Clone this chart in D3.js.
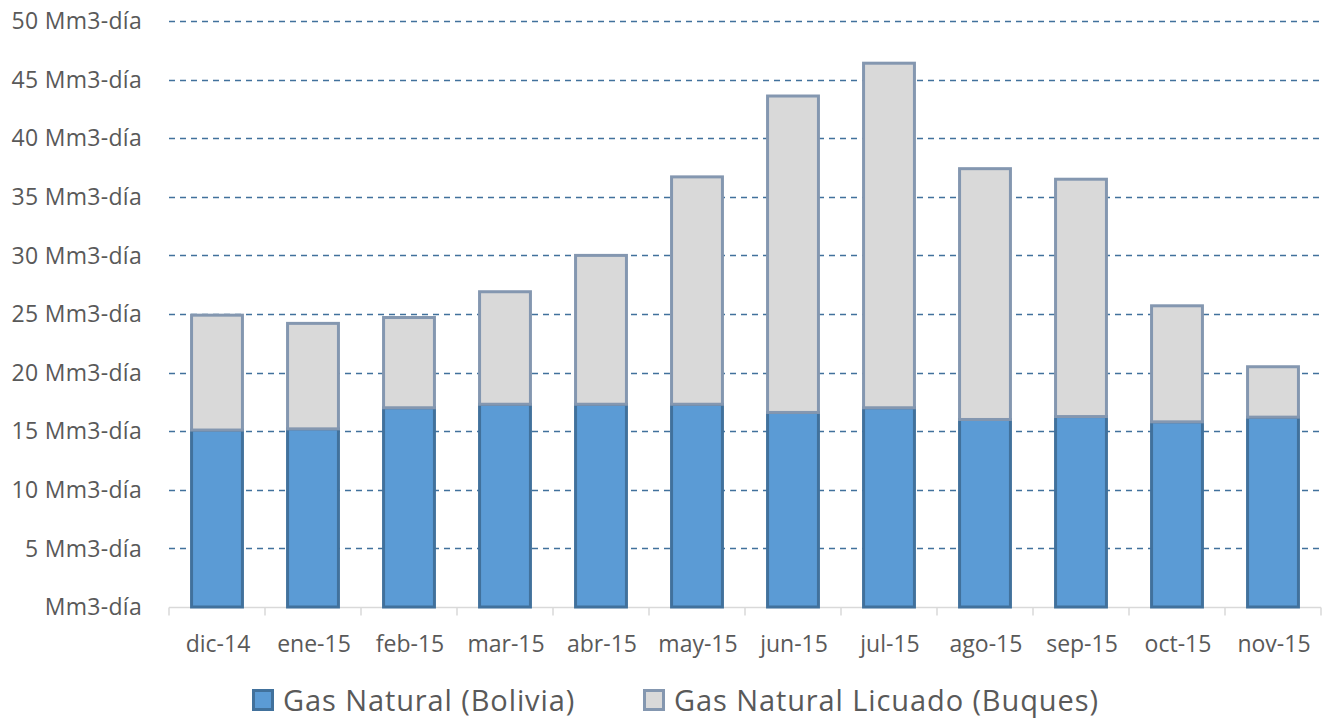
<!DOCTYPE html>
<html>
<head>
<meta charset="utf-8">
<script src="https://cdn.jsdelivr.net/npm/d3@7"></script>
<style>
  body { margin: 0; background: #fff; }
  svg { display: block; }
  text { font-family: "Open Sans", "Noto Sans", sans-serif; fill: #595959; }
</style>
</head>
<body>
<svg id="chart" width="1332" height="719"></svg>
<script>
// months on the x axis
const months = ["dic-14", "ene-15", "feb-15", "mar-15", "abr-15", "may-15",
                "jun-15", "jul-15", "ago-15", "sep-15", "oct-15", "nov-15"];
// Mm3 per day
const bolivia = [15.1, 15.2, 17.0, 17.3, 17.3, 17.3, 16.6, 17.0, 16.0, 16.25, 15.8, 16.2];
const gnl     = [9.8, 9.0, 7.7, 9.6, 12.7, 19.4, 27.0, 29.4, 21.4, 20.25, 9.9, 4.3];
const yTicks = [0, 5, 10, 15, 20, 25, 30, 35, 40, 45, 50];
const seriesNames = ["Gas Natural (Bolivia)", "Gas Natural Licuado (Buques)"];

const rows = months.map((m, i) => ({month: m, bolivia: bolivia[i], gnl: gnl[i]}));
const stacked = d3.stack().keys(["bolivia", "gnl"])(rows);

const fills = ["#5B9BD5", "#D9D9D9"];
const strokes = ["#41719C", "#8497B0"];

const svg = d3.select("#chart");
const margin = {left: 169, right: 11, top: 21, bottom: 112};
const W = 1332, H = 719;

const x = d3.scaleBand()
  .domain(months)
  .range([margin.left, W - margin.right])
  .paddingInner(0.47)
  .paddingOuter(0.235);

const y = d3.scaleLinear()
  .domain([0, 50])
  .range([H - margin.bottom, margin.top]);

// gridlines
svg.append("g")
  .selectAll("line")
  .data(yTicks.filter(d => d > 0))
  .join("line")
    .attr("x1", margin.left)
    .attr("x2", W - margin.right)
    .attr("y1", d => Math.round(y(d)) + 0.5)
    .attr("y2", d => Math.round(y(d)) + 0.5)
    .attr("stroke", "#41719C")
    .attr("stroke-width", 1.3)
    .attr("stroke-dasharray", "6,5");

// y labels
svg.append("g")
  .selectAll("text")
  .data(yTicks)
  .join("text")
    .attr("x", 142)
    .attr("y", d => y(d))
    .attr("dy", "0.36em")
    .attr("text-anchor", "end")
    .style("font-size", "23px")
    .style("letter-spacing", "0.3px")
    .text(d => d === 0 ? "Mm3-día" : d + " Mm3-día");

// baseline and category ticks
const base = Math.round(y(0)) + 0.5;
svg.append("line")
  .attr("x1", margin.left).attr("x2", W - margin.right)
  .attr("y1", base).attr("y2", base)
  .attr("stroke", "#D9D9D9").attr("stroke-width", 1.5);

const step = x.step();
svg.append("g")
  .selectAll("line")
  .data(d3.range(months.length + 1))
  .join("line")
    .attr("x1", i => margin.left + i * step)
    .attr("x2", i => margin.left + i * step)
    .attr("y1", base)
    .attr("y2", base + 8)
    .attr("stroke", "#D9D9D9")
    .attr("stroke-width", 1.5);

// bars
svg.append("g")
  .selectAll("g")
  .data(stacked)
  .join("g")
    .attr("fill", (d, i) => fills[i])
    .attr("stroke", (d, i) => strokes[i])
    .attr("stroke-width", 3)
  .selectAll("rect")
  .data(d => d)
  .join("rect")
    .attr("x", d => x(d.data.month))
    .attr("y", d => y(d[1]))
    .attr("width", x.bandwidth())
    .attr("height", d => y(d[0]) - y(d[1]));

// x labels
svg.append("g")
  .selectAll("text")
  .data(months)
  .join("text")
    .attr("x", d => x(d) + x.bandwidth() / 2 + 1)
    .attr("y", 643.5)
    .attr("dy", "0.36em")
    .attr("text-anchor", "middle")
    .style("font-size", "23px")
    .text(d => d);

// legend
const legendX = [252, 643];
const legend = svg.append("g")
  .selectAll("g")
  .data(seriesNames)
  .join("g")
    .attr("transform", (d, i) => `translate(${legendX[i]},689)`);

legend.append("rect")
  .attr("x", 1.5).attr("y", 1.5)
  .attr("width", 19).attr("height", 19)
  .attr("fill", (d, i) => fills[i])
  .attr("stroke", (d, i) => strokes[i])
  .attr("stroke-width", 3);

legend.append("text")
  .attr("x", 31)
  .attr("y", 11.5)
  .attr("dy", "0.36em")
  .style("font-size", "29px")
  .style("letter-spacing", "0.9px")
  .text(d => d);
</script>
</body>
</html>
